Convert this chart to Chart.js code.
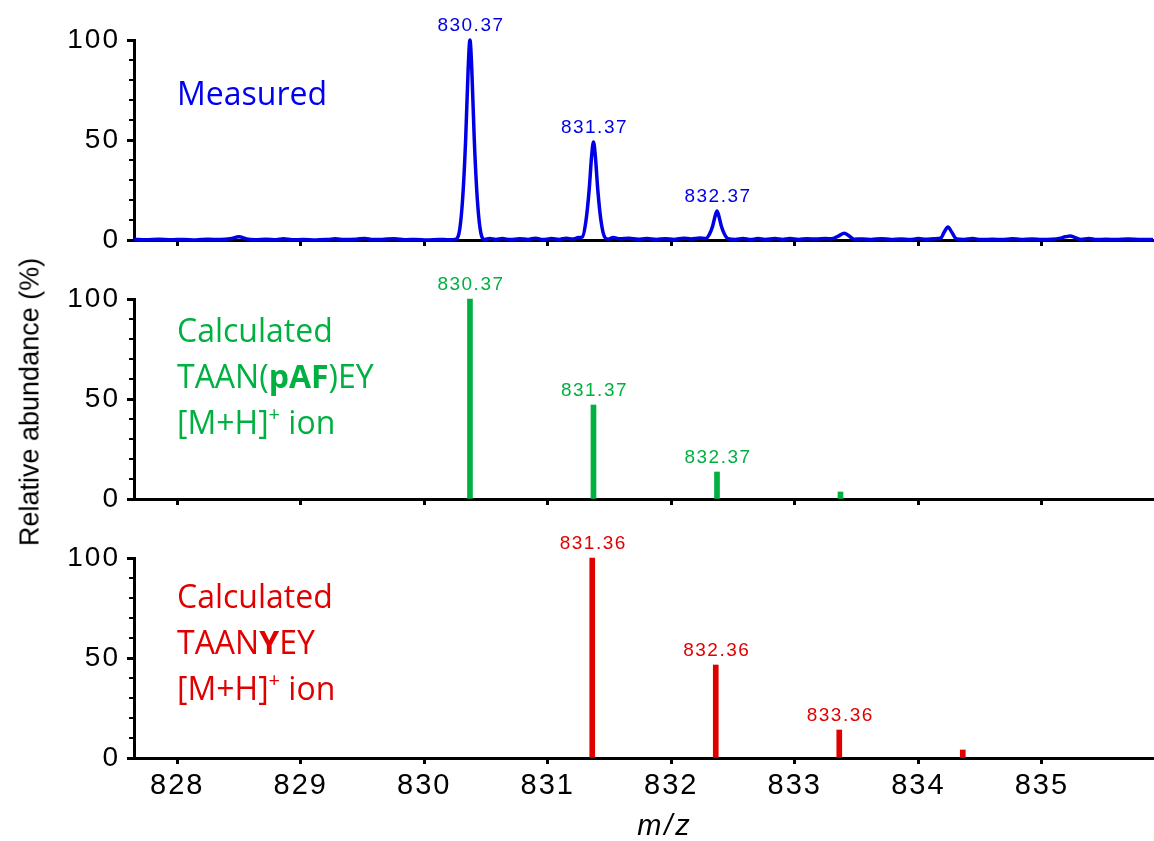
<!DOCTYPE html>
<html>
<head>
<meta charset="utf-8">
<script src="https://cdn.jsdelivr.net/npm/chart.js@4.4.1/dist/chart.umd.min.js"></script>
<style>
  body { margin: 0; background: #fff; width: 1154px; height: 841px; position: relative; overflow: hidden;
         font-family: "Liberation Sans", Arial, sans-serif; }
  canvas { position: absolute; left: 0; }
  .note { position: absolute; left: 177px; font-family: "Open Sans", sans-serif; font-size: 32px; line-height: 46px; white-space: nowrap; }
  .note sup { font-size: 20px; line-height: 0; vertical-align: 13px; }
  .ytitle { position: absolute; left: 30px; top: 402px; transform: translate(-50%, -50%) rotate(-90deg);
            font-size: 27px; white-space: nowrap; color: #000; }
  .xtitle { position: absolute; left: 665px; top: 825px; transform: translate(-50%, -50%);
            font-size: 29px; font-style: italic; letter-spacing: 3px; color: #000; }
</style>
</head>
<body>
<canvas id="measuredChart" width="1154" height="259" style="top:0"></canvas>
<canvas id="pafChart" width="1154" height="259" style="top:259px"></canvas>
<canvas id="tyrChart" width="1154" height="323" style="top:518px"></canvas>

<div class="note" style="top:70px;color:#0000f0">Measured</div>
<div class="note" style="top:307px;color:#00b040">Calculated<br>TAAN(<b>pAF</b>)EY<br>[M+H]<sup>+</sup> ion</div>
<div class="note" style="top:573px;color:#e00000">Calculated<br>TAAN<b>Y</b>EY<br>[M+H]<sup>+</sup> ion</div>
<div class="ytitle">Relative abundance (%)</div>
<div class="xtitle">m/z</div>

<script>
// axis ticks
const xTicks = [828, 829, 830, 831, 832, 833, 834, 835];
const yTicks = [0, 50, 100];
const yMinor = [10, 20, 30, 40, 60, 70, 80, 90];

// measured spectrum
const measuredMz = [
  827.65, 827.75, 827.85, 827.95, 828.05, 828.15, 828.25, 828.35, 828.43, 828.50,
  828.56, 828.63, 828.72, 828.80, 828.86, 828.93, 829.02, 829.12, 829.22, 829.28,
  829.35, 829.45, 829.52, 829.58, 829.66, 829.76, 829.84, 829.93, 830.02, 830.12,
  830.20, 830.25, 830.28, 830.31, 830.335, 830.355, 830.37, 830.385, 830.405, 830.43,
  830.46, 830.49, 830.53, 830.58, 830.63, 830.70, 830.77, 830.84, 830.90, 830.96,
  831.03, 831.09, 831.15, 831.20, 831.25, 831.28, 831.31, 831.335, 831.355, 831.37,
  831.385, 831.405, 831.43, 831.46, 831.49, 831.53, 831.58, 831.66, 831.73, 831.80,
  831.88, 831.95, 832.02, 832.10, 832.16, 832.23, 832.28, 832.31, 832.335, 832.355,
  832.37, 832.385, 832.405, 832.43, 832.46, 832.52, 832.58, 832.64, 832.70, 832.76,
  832.84, 832.90, 832.96, 833.03, 833.10, 833.17, 833.25, 833.30, 833.36, 833.40,
  833.44, 833.48, 833.55, 833.62, 833.70, 833.78, 833.86, 833.93, 834.00, 834.06,
  834.13, 834.18, 834.21, 834.24, 834.27, 834.31, 834.37, 834.44, 834.51, 834.60,
  834.68, 834.76, 834.83, 834.92, 835.00, 835.08, 835.14, 835.19, 835.23, 835.27,
  835.32, 835.38, 835.44, 835.52, 835.60, 835.70, 835.80, 835.90
];
const measuredInt = [
  0.3, 0.1, 0.4, 0.1, 0.3, 0.0, 0.4, 0.2, 0.6, 1.6,
  0.5, 0.1, 0.4, 0.1, 0.6, 0.1, 0.2, 0.0, 0.3, 0.6,
  0.2, 0.4, 0.8, 0.2, 0.3, 0.6, 0.1, 0.3, 0.0, 0.3,
  0.1, 0.3, 3, 20, 50, 85, 100, 85, 50, 20,
  3, 0.2, 0.8, 0.3, 0.7, 0.2, 0.6, 0.3, 0.9, 0.2,
  0.7, 0.3, 0.9, 0.5, 1.2, 1.5, 10, 25, 42, 49,
  42, 25, 10, 1.5, 0.4, 1.3, 0.6, 0.9, 0.4, 0.7,
  0.3, 0.6, 0.3, 0.9, 0.5, 1.0, 0.8, 3, 7, 12,
  14.5, 12, 7, 3, 0.6, 0.3, 0.8, 0.2, 0.7, 0.3,
  0.8, 0.3, 0.7, 0.3, 0.6, 0.5, 0.7, 0.6, 2.2, 3.4,
  2.0, 0.4, 0.5, 0.3, 0.6, 0.3, 0.5, 0.2, 0.7, 0.4,
  0.6, 0.9, 4, 6.5, 4, 0.5, 0.3, 0.7, 0.2, 0.4,
  0.2, 0.6, 0.3, 0.5, 0.2, 0.4, 0.8, 1.6, 2.0, 1.2,
  0.3, 0.8, 0.2, 0.4, 0.2, 0.5, 0.2, 0.3
];
const measuredPeakMz = [830.37, 831.37, 832.37];
const measuredPeakInt = [100, 49, 14.5];

// calculated isotope patterns
const pafMz = [830.37, 831.37, 832.37, 833.37];
const pafInt = [100, 47, 13.5, 3.5];
const tyrMz = [831.36, 832.36, 833.36, 834.36];
const tyrInt = [100, 46.5, 14, 4];

const BLUE = '#0000e6';
const GREEN = '#00b040';
const RED = '#e00000';

function pairs(xs, ys) {
  return xs.map((x, i) => ({ x: x, y: ys[i] }));
}

// canvas letter spacing, the figure uses slightly spaced digits
const spacingPlugin = {
  id: 'spacing',
  beforeInit(chart) { chart.ctx.letterSpacing = '2px'; },
  beforeDraw(chart) { chart.ctx.letterSpacing = '2px'; }
};

// short minor ticks every 10 %
const minorTicks = {
  id: 'minorTicks',
  afterDraw(chart) {
    const y = chart.scales.y;
    const ctx = chart.ctx;
    ctx.save();
    ctx.strokeStyle = '#000';
    ctx.lineWidth = 2;
    yMinor.forEach(v => {
      const py = y.getPixelForValue(v);
      ctx.beginPath();
      ctx.moveTo(y.right - 5, py);
      ctx.lineTo(y.right, py);
      ctx.stroke();
    });
    ctx.restore();
  }
};

// m/z labels above the peaks
const peakLabels = {
  id: 'peakLabels',
  afterDatasetsDraw(chart, args, opts) {
    const ctx = chart.ctx;
    const xs = chart.scales.x, ys = chart.scales.y;
    ctx.save();
    ctx.font = '19px "Liberation Sans", Arial, sans-serif';
    ctx.letterSpacing = '1.5px';
    ctx.fillStyle = opts.color;
    ctx.textAlign = 'center';
    ctx.textBaseline = 'alphabetic';
    opts.mz.forEach((m, i) => {
      ctx.fillText(m.toFixed(2), xs.getPixelForValue(m) + 1, ys.getPixelForValue(opts.val[i]) - 9);
    });
    ctx.restore();
  }
};

function makeOptions(xHeight, showLabels, labelMz, labelVal, color) {
  return {
    responsive: false,
    animation: false,
    events: [],
    layout: { padding: { top: 40, right: 1, left: 0, bottom: 0 } },
    plugins: {
      legend: { display: false },
      tooltip: { enabled: false },
      peakLabels: { mz: labelMz, val: labelVal, color: color }
    },
    scales: {
      x: {
        type: 'linear',
        min: 827.65,
        max: 835.9,
        offset: false,
        afterBuildTicks: s => { s.ticks = xTicks.map(v => ({ value: v })); },
        afterFit: s => { s.height = xHeight; s.paddingLeft = 0; s.paddingRight = 0; },
        grid: { drawOnChartArea: false, drawTicks: true, tickLength: 6, tickWidth: 3, color: '#000', offset: false },
        border: { display: true, color: '#000', width: 3 },
        ticks: {
          color: '#000',
          autoSkip: false,
          maxRotation: 0,
          padding: 5,
          font: { family: '"Liberation Sans", Arial, sans-serif', size: 29 },
          callback: v => showLabels ? String(v) : ''
        }
      },
      y: {
        min: 0,
        max: 100,
        afterBuildTicks: s => { s.ticks = yTicks.map(v => ({ value: v })); },
        afterFit: s => { s.width = 134; s.paddingTop = 0; s.paddingBottom = 0; },
        grid: { drawOnChartArea: false, drawTicks: true, tickLength: 7, tickWidth: 3, color: '#000' },
        border: { display: true, color: '#000', width: 3 },
        ticks: {
          color: '#000',
          padding: 7,
          font: { family: '"Liberation Sans", Arial, sans-serif', size: 28 }
        }
      }
    }
  };
}

new Chart(document.getElementById('measuredChart'), {
  type: 'line',
  data: {
    datasets: [{
      data: pairs(measuredMz, measuredInt),
      borderColor: BLUE,
      borderWidth: 3.5,
      pointRadius: 0,
      fill: false,
      cubicInterpolationMode: 'monotone',
      clip: false
    }]
  },
  options: makeOptions(19, false, measuredPeakMz, measuredPeakInt, BLUE),
  plugins: [spacingPlugin, minorTicks, peakLabels]
});

function barChart(id, mz, vals, color, xHeight, showLabels) {
  return new Chart(document.getElementById(id), {
    type: 'bar',
    data: {
      datasets: [{
        data: pairs(mz, vals),
        backgroundColor: color,
        borderWidth: 0,
        barThickness: 5,
        clip: false
      }]
    },
    options: makeOptions(xHeight, showLabels, mz.slice(0, 3), vals.slice(0, 3), color),
    plugins: [spacingPlugin, minorTicks, peakLabels]
  });
}

barChart('pafChart', pafMz, pafInt, GREEN, 19, false);
barChart('tyrChart', tyrMz, tyrInt, RED, 83, true);
</script>
</body>
</html>
